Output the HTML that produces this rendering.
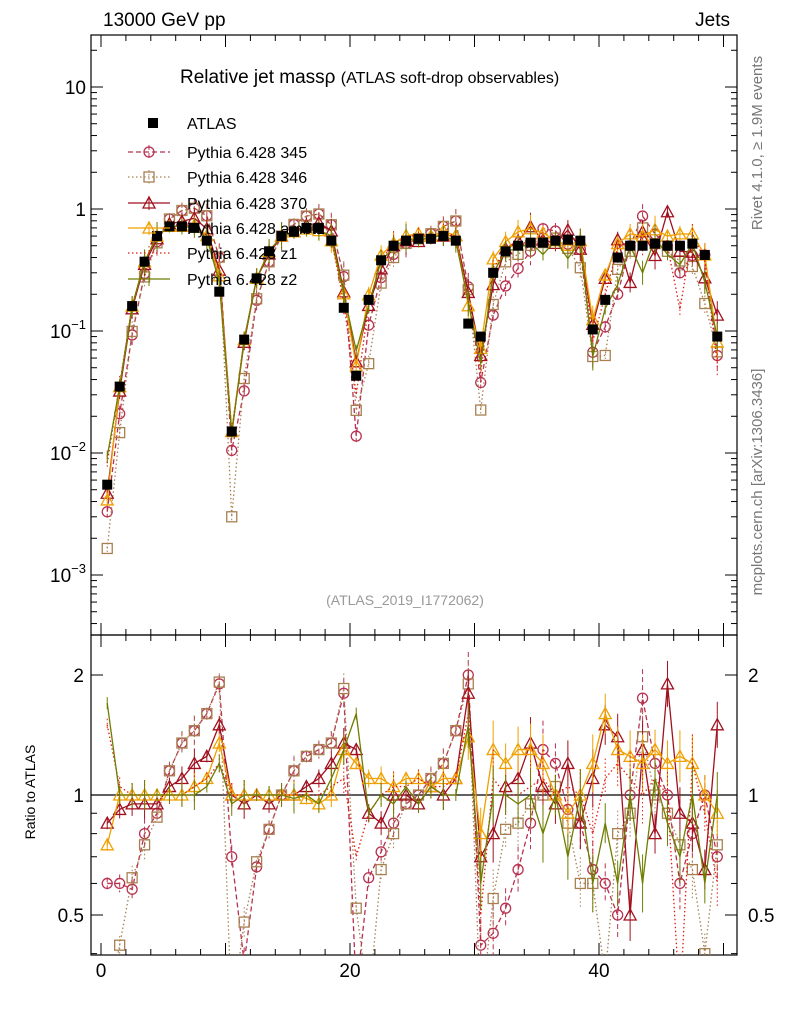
<!DOCTYPE html>
<html><head><meta charset="utf-8"><style>
html,body{margin:0;padding:0;background:#fff;width:786px;height:1024px;overflow:hidden;}
svg{display:block;font-family:"Liberation Sans",sans-serif;}
</style></head><body>
<svg id="c" width="786" height="1024" viewBox="0 0 786 1024">
<text x="103" y="26" font-size="19">13000 GeV pp</text>
<text x="730" y="26" font-size="19" text-anchor="end">Jets</text>
<text x="180" y="83" font-size="19">Relative jet massρ <tspan font-size="16">(ATLAS soft-drop observables)</tspan></text>
<text x="405" y="605" font-size="14" fill="#999" text-anchor="middle">(ATLAS_2019_I1772062)</text>
<text transform="translate(35,792) rotate(-90)" font-size="14" text-anchor="middle">Ratio to ATLAS</text>
<text transform="translate(762,143) rotate(-90)" font-size="15" fill="#777" text-anchor="middle">Rivet 4.1.0, ≥ 1.9M events</text>
<text transform="translate(762,482) rotate(-90)" font-size="15" fill="#777" text-anchor="middle">mcplots.cern.ch [arXiv:1306.3436]</text>
</svg>
<script>
const bins=[];for(let i=0;i<50;i++)bins.push(i+0.5);
const atlas=[0.0055,0.035,0.16,0.37,0.6,0.72,0.72,0.7,0.55,0.21,0.015,0.085,0.27,0.45,0.6,0.65,0.7,0.7,0.55,0.155,0.043,0.18,0.38,0.5,0.55,0.57,0.57,0.6,0.55,0.115,0.09,0.3,0.45,0.5,0.53,0.53,0.55,0.56,0.55,0.103,0.18,0.4,0.5,0.5,0.52,0.5,0.5,0.52,0.42,0.09];
const r345=[0.6,0.6,0.58,0.8,0.9,1.15,1.35,1.45,1.6,1.9,0.7,0.38,0.66,0.82,1.0,1.15,1.25,1.3,1.35,1.8,0.32,0.62,0.72,0.85,0.95,1.0,1.1,1.2,1.45,2.0,0.42,0.45,0.52,0.65,0.85,1.3,1.2,0.92,0.85,0.65,0.6,0.5,1.0,1.75,1.2,1.0,0.6,0.8,1.0,0.7];
const r346=[0.3,0.42,0.62,0.75,0.88,1.15,1.35,1.45,1.6,1.92,0.2,0.48,0.68,0.82,1.0,1.15,1.25,1.3,1.35,1.85,0.52,0.3,0.65,0.8,0.95,1.0,1.1,1.2,1.45,1.9,0.25,0.55,0.82,0.85,0.95,1.0,1.05,0.85,0.6,0.6,0.35,0.8,0.9,1.4,1.0,0.9,0.75,0.65,0.4,0.75];
const r370=[0.85,0.92,0.95,0.95,0.95,1.05,1.1,1.2,1.25,1.5,1.0,0.95,1.0,0.95,1.0,1.0,1.05,1.1,1.2,1.35,1.3,0.9,0.85,1.0,1.0,0.95,1.05,1.0,1.1,1.8,0.7,0.8,1.05,1.1,1.35,1.05,0.95,1.2,0.85,1.1,1.5,1.4,0.5,1.3,0.8,1.9,0.9,0.85,0.65,1.5];
const rAmbt1=[0.75,1.0,1.0,1.0,1.0,1.0,1.0,1.05,1.1,1.35,1.0,1.0,1.0,1.0,1.0,1.0,0.98,0.95,1.0,1.3,1.2,1.1,1.1,1.05,1.1,1.1,1.05,1.1,1.1,1.4,0.8,1.3,1.2,1.3,1.3,1.2,1.0,0.9,1.0,1.2,1.6,1.3,1.25,1.2,1.3,1.2,1.25,1.2,1.0,0.9];
const rZ1=[1.5,1.05,1.0,1.0,1.0,1.0,1.0,1.05,1.1,1.2,1.0,1.0,1.0,1.0,1.0,1.0,1.0,1.0,1.05,1.1,0.7,0.9,1.0,1.05,1.05,1.1,1.05,1.05,1.1,1.6,0.5,1.1,1.0,1.0,1.05,1.1,1.0,1.05,1.0,0.8,1.1,1.2,1.1,1.0,1.1,1.0,0.3,1.2,0.9,0.6];
const rZ2=[1.7,1.0,1.0,1.0,1.0,1.0,1.0,1.0,1.05,1.2,0.95,1.0,1.0,1.0,1.0,0.98,1.0,0.95,1.1,1.3,1.6,0.9,1.0,0.95,1.05,0.95,1.05,1.0,1.0,1.5,0.6,1.0,1.0,0.95,1.0,0.8,1.0,0.7,1.0,0.6,0.85,0.6,1.0,0.6,1.1,0.85,0.7,1.0,0.6,1.0];
const xTicks=[0,20,40];
const yTicks=[-3,-2,-1,0,1];
const rTicks=[0.5,1,2];

const NS="http://www.w3.org/2000/svg";
const svg=document.getElementById('c');
function el(t,a,p){const e=document.createElementNS(NS,t);for(const k in a)e.setAttribute(k,a[k]);(p||svg).appendChild(e);return e;}
const L=91,R=737,T=35,M=635,B=955;
const X=v=>101+v*12.45;
const Y=v=>209-122*Math.log10(v);
const RY=v=>795-120*Math.log2(v);
const cl=y=>Math.max(10,Math.min(1015,y));

let f1=el('rect',{x:L,y:T,width:R-L,height:M-T,fill:'none',stroke:'#000','stroke-width':1.2});

let f2=el('rect',{x:L,y:M,width:R-L,height:B-M,fill:'none',stroke:'#000','stroke-width':1.2});


const gx=el('g',{});
for(let v=0;v<=50;v+=2){const big=v%10===0;const l=big?12:6;const x=X(v);if(x<L||x>R)continue;
 for(const [yb,dir] of [[M,-1],[T,1],[B,-1],[M,1]]) el('line',{x1:x,x2:x,y1:yb,y2:yb+dir*l,stroke:'#000'},gx);}
xTicks.forEach(v=>{const t=el('text',{x:X(v),y:977,'font-size':19,'text-anchor':'middle'},gx);t.textContent=v;});

const gy=el('g',{});
for(let d=-4;d<=1;d++)for(let m=1;m<10;m++){const v=m*Math.pow(10,d);const y=Y(v);if(y<T||y>M)continue;const l=m===1?12:6;
 el('line',{x1:L,x2:L+l,y1:y,y2:y,stroke:'#000'},gy);el('line',{x1:R,x2:R-l,y1:y,y2:y,stroke:'#000'},gy);}
yTicks.forEach(d=>{const y=Y(Math.pow(10,d));const t=el('text',{x:86,y:y+7,'font-size':19,'text-anchor':'end'},gy);
 if(d===0)t.textContent='1';else if(d===1)t.textContent='10';else{t.textContent='10';const s=el('tspan',{'font-size':13,dy:-9},t);s.textContent=String(d).replace('-','−');}});

const gr=el('g',{});
[0.4,0.5,0.6,0.7,0.8,0.9,1,2].forEach(v=>{const y=RY(v);if(y<M||y>B)return;const l=(v===0.5||v===1||v===2)?12:6;
 el('line',{x1:L,x2:L+l,y1:y,y2:y,stroke:'#000'},gr);el('line',{x1:R,x2:R-l,y1:y,y2:y,stroke:'#000'},gr);});
rTicks.forEach(v=>{const y=RY(v)+7;let t=el('text',{x:84,y:y,'font-size':19,'text-anchor':'end'},gr);t.textContent=v;
 t=el('text',{x:748,y:y,'font-size':19},gr);t.textContent=v;});
el('line',{x1:L,x2:R,y1:RY(1),y2:RY(1),stroke:'#000','stroke-width':1.2},gr);

const series=[
 {n:'pythia-345',r:r345,c:'#b8304f',d:'5,3',m:'circle',lbl:'Pythia 6.428 345'},
 {n:'pythia-346',r:r346,c:'#a88050',d:'1.5,2.5',m:'square',lbl:'Pythia 6.428 346'},
 {n:'pythia-370',r:r370,c:'#a0101e',d:'',m:'tri',lbl:'Pythia 6.428 370'},
 {n:'pythia-ambt1',r:rAmbt1,c:'#f0a000',d:'',m:'tri',lbl:'Pythia 6.428 ambt1'},
 {n:'pythia-z1',r:rZ1,c:'#e01c10',d:'1.5,2.5',m:'',lbl:'Pythia 6.428 z1'},
 {n:'pythia-z2',r:rZ2,c:'#6f7d00',d:'',m:'',lbl:'Pythia 6.428 z2'}];

function marker(g,type,x,y,c,s){s=s||5;if(y>1010||y<10)return;
 if(type==='circle')el('circle',{cx:x,cy:y,r:s,fill:'none',stroke:c,'stroke-width':1.3},g);
 else if(type==='square')el('rect',{x:x-s,y:y-s,width:2*s,height:2*s,fill:'none',stroke:c,'stroke-width':1.3},g);
 else if(type==='tri')el('polygon',{points:`${x},${y-s-1} ${x-s-1},${y+s} ${x+s+1},${y+s}`,fill:'none',stroke:c,'stroke-width':1.3},g);
}
const clip=el('clipPath',{id:'cm'});el('rect',{x:L,y:T,width:R-L,height:M-T},clip);
const clip2=el('clipPath',{id:'cr'});el('rect',{x:L,y:M,width:R-L,height:B-M},clip2);

series.forEach(s=>{
 const g=el('g',{'clip-path':'url(#cm)'});
 const pts=bins.map((b,i)=>[X(b),cl(Y(atlas[i]*s.r[i]))]);
 el('polyline',{points:pts.map(p=>p.join(',')).join(' '),fill:'none',stroke:s.c,'stroke-width':1.3,'stroke-dasharray':s.d},g);
 pts.forEach((p,i)=>{const e=6+(i%5)*2;el('line',{x1:p[0],x2:p[0],y1:cl(p[1]-e),y2:cl(p[1]+e),stroke:s.c,'stroke-dasharray':s.d},g);if(s.m)marker(g,s.m,p[0],p[1],s.c);});
 const g2=el('g',{'clip-path':'url(#cr)'});
 const rp=bins.map((b,i)=>[X(b),cl(RY(s.r[i]))]);
 el('polyline',{points:rp.map(p=>p.join(',')).join(' '),fill:'none',stroke:s.c,'stroke-width':1.3,'stroke-dasharray':s.d},g2);
 rp.forEach((p,i)=>{const e=(i>28?20:6)+(i%4)*3;el('line',{x1:p[0],x2:p[0],y1:cl(p[1]-e),y2:cl(p[1]+e),stroke:s.c,'stroke-dasharray':s.d},g2);if(s.m)marker(g2,s.m,p[0],p[1],s.c);});
});
const ga=el('g',{'clip-path':'url(#cm)'});
bins.forEach((b,i)=>{const x=X(b),y=Y(atlas[i]);el('rect',{x:x-5,y:y-5,width:10,height:10,fill:'#000'},ga);});

const lg=el('g',{});
const ly=[123,152,177,203,228,253,279];
el('rect',{x:148,y:ly[0]-5,width:10,height:10,fill:'#000'},lg);
let t=el('text',{x:187,y:ly[0]+6,'font-size':16},lg);t.textContent='ATLAS';
series.forEach((s,i)=>{const y=ly[i+1];
 el('line',{x1:128,x2:170,y1:y,y2:y,stroke:s.c,'stroke-width':1.3,'stroke-dasharray':s.d},lg);
 el('line',{x1:149,x2:149,y1:y-7,y2:y+7,stroke:s.c,'stroke-dasharray':s.d},lg);
 if(s.m)marker(lg,s.m,149,y,s.c);
 const tt=el('text',{x:187,y:y+6,'font-size':16},lg);tt.textContent=s.lbl;});
</script>
</body></html>
